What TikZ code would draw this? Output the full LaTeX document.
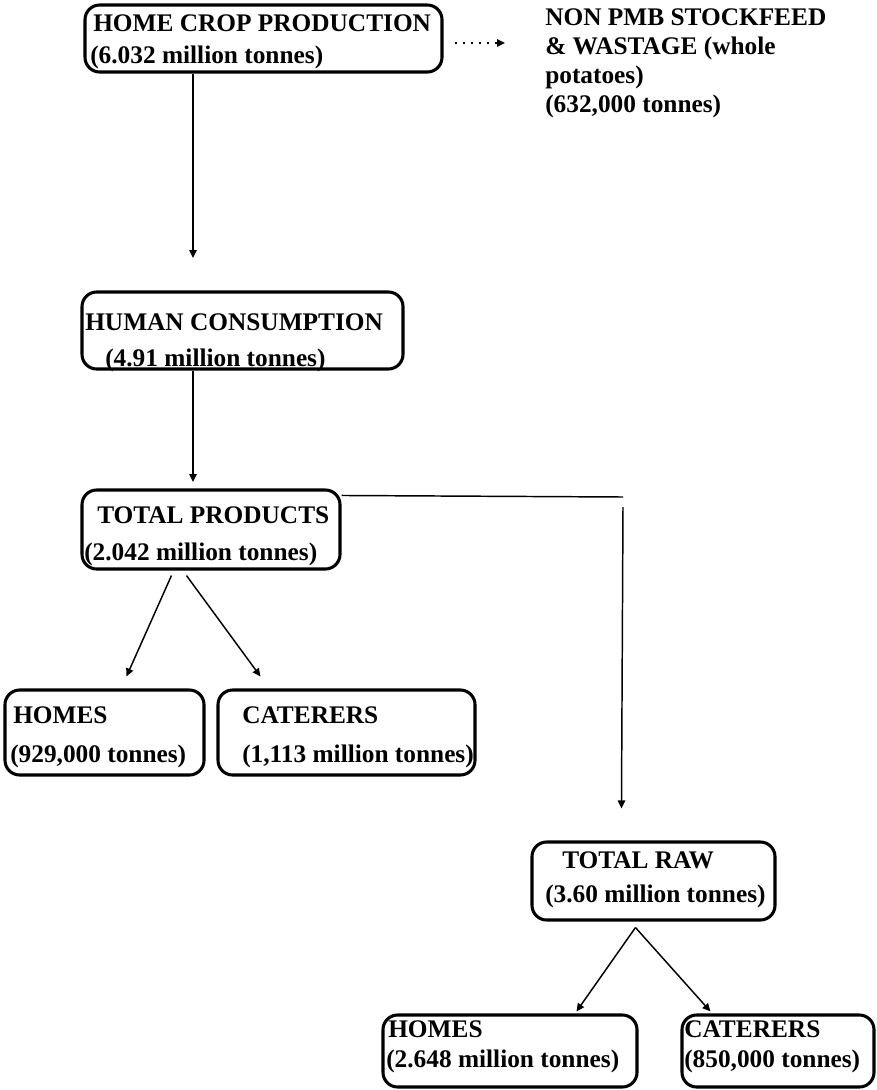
\documentclass[tikz,border=0pt]{standalone}
\usepackage{fontspec}
\setmainfont{Liberation Serif}
\usetikzlibrary{arrows.meta,fit,calc}
\begin{document}
\begin{tikzpicture}[x=0.75pt,y=-0.75pt,
  box/.style={draw, line width=2.3pt, rounded corners=11pt, inner sep=0pt},
  lbl/.style={anchor=base west, inner sep=0pt, font=\bfseries\fontsize{19}{23}\selectfont},
  arr/.style={line width=1.1pt, -{Triangle[length=6pt,width=5.5pt]}},
  dotarr/.style={line width=1.6pt, dash pattern=on 1.6pt off 4.4pt, -{Triangle[length=6pt,width=5.5pt]}},
  ln/.style={line width=1.1pt}]
\useasboundingbox (0,0) rectangle (876,1090);

% production chain, top to bottom
\node[box, fit={(85,5) (442,72)}] (hcp) {};
\node[lbl] (hcp1) at (93,31) {HOME CROP PRODUCTION};
\node[lbl] (hcp2) at (90,63) {(6.032 million tonnes)};

\node[lbl] (w1) at (545,25) {NON PMB STOCKFEED};
\node[lbl] (w2) at (545,54) {\& WASTAGE (whole};
\node[lbl] (w3) at (545,83) {potatoes)};
\node[lbl] (w4) at (545,112) {(632,000 tonnes)};

\node[box, fit={(82,292) (403,369)}] (hc) {};
\node[lbl] (hc1) at (85,330) {HUMAN CONSUMPTION};
\node[lbl] (hc2) at (105,366) {(4.91 million tonnes)};

\node[box, fit={(82,490) (340,569)}] (tp) {};
\node[lbl] (tp1) at (97,523) {TOTAL PRODUCTS};
\node[lbl] (tp2) at (84,560) {(2.042 million tonnes)};

\node[box, fit={(5,690) (204,775)}] (ph) {};
\node[lbl] (ph1) at (13,723) {HOMES};
\node[lbl] (ph2) at (10,762) {(929,000 tonnes)};

\node[box, fit={(218,690) (475,775)}] (pc) {};
\node[lbl] (pc1) at (242,723) {CATERERS};
\node[lbl] (pc2) at (242,762) {(1,113 million tonnes)};

\node[box, fit={(532,842) (775,920)}] (tr) {};
\node[lbl] (tr1) at (562,868) {TOTAL RAW};
\node[lbl] (tr2) at (545,902) {(3.60 million tonnes)};

\node[box, fit={(383,1015) (637,1087)}] (rh) {};
\node[lbl] (rh1) at (388,1037) {HOMES};
\node[lbl] (rh2) at (386,1067) {(2.648 million tonnes)};

\node[box, fit={(682,1015) (874,1087)}] (rc) {};
\node[lbl] (rc1) at (684,1037) {CATERERS};
\node[lbl] (rc2) at (684,1067) {(850,000 tonnes)};

% connectors
\coordinate (a1) at (193,258);
\coordinate (a2) at (193,482);
\coordinate (d2) at (505,43);
\coordinate (c1) at (623,497);
\coordinate (c2) at (623,507);

\draw[dotarr] ($(hcp.east)+(11,4.5)$) -- (d2);
\draw[arr] (hcp.south -| a1) -- (a1);
\draw[arr] (hc.south -| a2) -- (a2);
\draw[arr] ($(tp.south west)+(91,5)$) -- ($(ph.north west)+(123,-12)$);
\draw[arr] ($(tp.south west)+(106,5)$) -- ($(pc.north west)+(44,-12)$);
\draw[ln] ($(tp.north east)+(0,7)$) -- (c1);
\draw[arr] (c2) -- ($(tr.north west)+(91,-32)$);
\draw[arr] ($(tr.south west)+(105,6)$) -- ($(rh.north west)+(195,-2)$);
\draw[arr] ($(tr.south west)+(105,6)$) -- ($(rc.north west)+(30,-2)$);
\end{tikzpicture}
\end{document}
